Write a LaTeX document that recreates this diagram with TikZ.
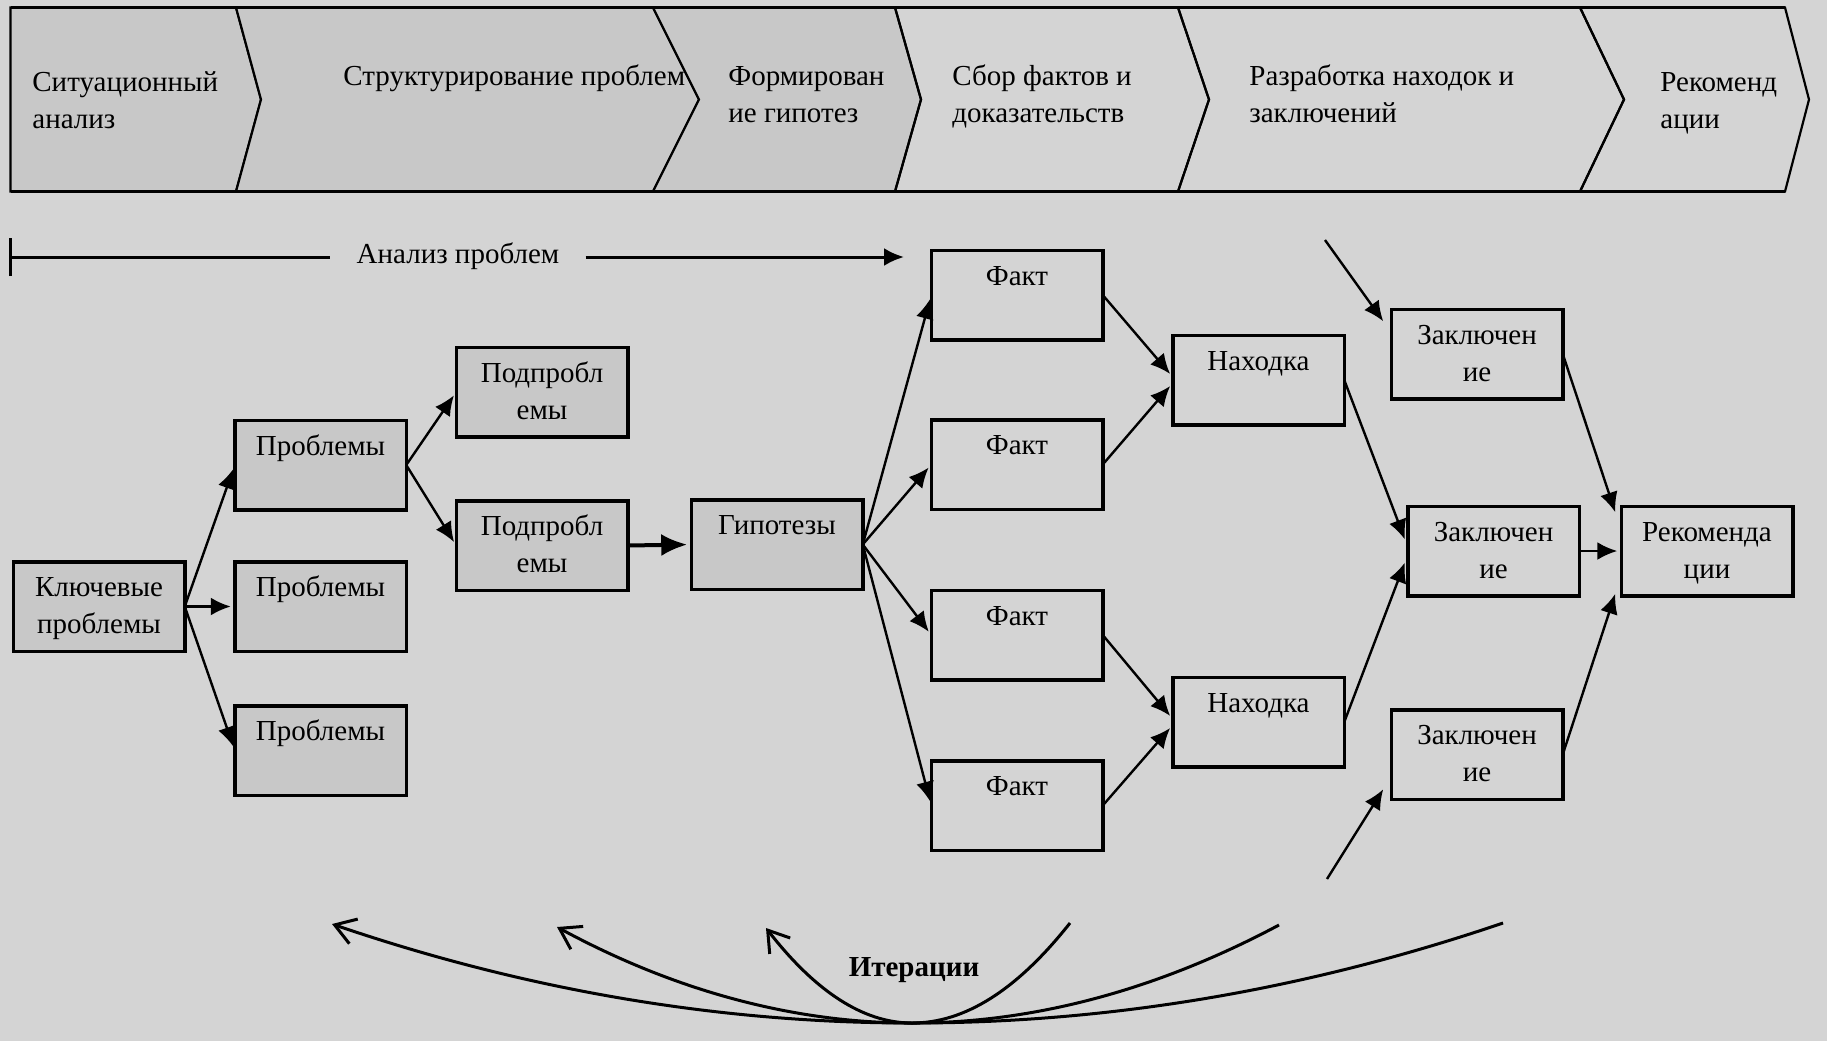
\documentclass[tikz,border=0pt]{standalone}
\usepackage{fontspec}
\setmainfont{Liberation Serif}
\usetikzlibrary{arrows.meta}
\definecolor{bgcol}{HTML}{D4D4D4}
\definecolor{cellfill}{HTML}{C8C8C8}
\newcommand{\cell}[1]{\parbox[c][44.75pt][t]{85.75pt}{\centering\rule{0pt}{17.6pt}#1\par}}

\begin{document}
\begin{tikzpicture}[x=0.5pt,y=-0.5pt,
  every node/.style={font=\fontsize{14.5}{18.3}\selectfont},
  box/.style={draw,line width=1.75pt,inner sep=0pt,outer sep=0pt},
  graybox/.style={box,fill=cellfill},
  stage/.style={anchor=base west,align=left,inner sep=0pt},
  arr/.style={-{Latex[length=10pt,width=9pt]},line width=1.2pt,shorten >=2pt},
  band/.style={line width=1.1pt,line join=miter},
  iter/.style={line width=1.5pt},
  barb/.style={-{Straight Barb[length=10pt,width=13pt]}}]
\fill[bgcol] (0,0) rectangle (1827,1041);
\useasboundingbox (0,0) rectangle (1827,1041);
% stages
\filldraw[band,fill=cellfill] (10.5,7.5) -- (236,7.5) -- (261,99.5) -- (236,191.5) -- (10.5,191.5) -- cycle;
\filldraw[band,fill=cellfill] (236,7.5) -- (653,7.5) -- (699,99.5) -- (653,191.5) -- (236,191.5) -- (261,99.5) -- cycle;
\filldraw[band,fill=cellfill] (653,7.5) -- (895,7.5) -- (921,99.5) -- (895,191.5) -- (653,191.5) -- (699,99.5) -- cycle;
\draw[band] (895,7.5) -- (1178,7.5) -- (1209,99.5) -- (1178,191.5) -- (895,191.5) -- (921,99.5) -- cycle;
\draw[band] (1178,7.5) -- (1580,7.5) -- (1624,99.5) -- (1580,191.5) -- (1178,191.5) -- (1209,99.5) -- cycle;
\draw[band] (1580,7.5) -- (1785,7.5) -- (1809,99.5) -- (1785,191.5) -- (1580,191.5) -- (1624,99.5) -- cycle;
\draw[line width=1.6pt] (10.5,7.5) -- (1785,7.5) (10.5,191.5) -- (1785,191.5);
\node[stage] (st1) at (32,128.3) {Ситуационный\\анализ};
\node[stage] (st2) at (343,85) {Структурирование проблем};
\node[stage] (st3) at (728,122) {Формирован\\ие гипотез};
\node[stage] (st4) at (952,122) {Сбор фактов и\\доказательств};
\node[stage] (st5) at (1249,122) {Разработка находок и\\заключений};
\node[stage] (st6) at (1660,128.3) {Рекоменд\\ации};
% problem analysis
\coordinate (anstart) at (9,257);
\coordinate (anend) at (904,257);
\node[anchor=base,inner xsep=13pt] (analiz) at (458,263.3) {Анализ проблем};
\draw[line width=1.5pt,{Bar[width=19pt]}-] (anstart) -- (anstart -| analiz.west);
\draw[line width=1.5pt,-{Latex[length=10pt,width=9pt]}] (anend -| analiz.east) -- (anend);
% boxes
\node[graybox] (key) at (99,606.5) {\cell{Ключевые\\проблемы}};
\node[graybox] (p1) at (320.5,465) {\cell{Проблемы}};
\node[graybox] (p2) at (320.5,606.5) {\cell{Проблемы}};
\node[graybox] (p3) at (320.5,750.5) {\cell{Проблемы}};
\node[graybox] (s1) at (542,392) {\cell{Подпробл\\емы}};
\node[graybox] (s2) at (542,545.5) {\cell{Подпробл\\емы}};
\node[graybox] (hyp) at (777,544.5) {\cell{Гипотезы}};
\node[box] (f1) at (1017,295) {\cell{Факт}};
\node[box] (f2) at (1017,464.5) {\cell{Факт}};
\node[box] (f3) at (1017,635) {\cell{Факт}};
\node[box] (f4) at (1017,805.5) {\cell{Факт}};
\node[box] (n1) at (1258.5,380) {\cell{Находка}};
\node[box] (n2) at (1258.5,722) {\cell{Находка}};
\node[box] (c1) at (1477,354) {\cell{Заключен\\ие}};
\node[box] (c2) at (1493.5,551) {\cell{Заключен\\ие}};
\node[box] (c3) at (1477,754.5) {\cell{Заключен\\ие}};
\node[box] (rec) at (1707,551) {\cell{Рекоменда\\ции}};
% connectors
\draw[arr] (key.east) -- (p1.west);
\draw[arr] (key.east) -- (p2.west);
\draw[arr] (key.east) -- (p3.west);
\draw[arr] (p1.east) -- (s1.west);
\draw[arr] (p1.east) -- (s2.west);
\draw[arr,line width=2pt,-{Latex[length=13pt,width=11pt]}] (s2.east) -- (hyp.west);
\draw[arr] (hyp.east) -- (f1.west);
\draw[arr] (hyp.east) -- (f2.west);
\draw[arr] (hyp.east) -- (f3.west);
\draw[arr] (hyp.east) -- (f4.west);
\draw[arr] (f1.east) -- ([yshift=1.5pt]n1.west);
\draw[arr] (f2.east) -- ([yshift=-1.5pt]n1.west);
\draw[arr] (f3.east) -- ([yshift=1.5pt]n2.west);
\draw[arr] (f4.east) -- ([yshift=-1.5pt]n2.west);
\draw[arr,shorten >=4pt] (n1.east) -- ([yshift=2pt]c2.west);
\draw[arr,shorten >=4pt] (n2.east) -- ([yshift=-2pt]c2.west);
\draw[arr,shorten >=0pt] (c1.east) -- ([xshift=-3pt,yshift=-3pt]rec.north west);
\draw[arr] (c2.east) -- (rec.west);
\draw[arr,shorten >=0pt] (c3.east) -- ([xshift=-3pt,yshift=1pt]rec.south west);
\coordinate (cin1) at (1325,240);
\coordinate (cin3) at (1327,879);
\draw[arr,shorten >=0pt] (cin1) -- ([xshift=-4pt,yshift=-6pt]c1.north west);
\draw[arr,shorten >=0pt] (cin3) -- ([xshift=-4pt,yshift=5pt]c3.south west);
% iterations
\node[anchor=base,font=\bfseries\fontsize{14.5}{18.3}\selectfont] (iter) at (914,976.7) {Итерации};
\coordinate (ib) at (912,1023);
\coordinate (il1) at (332,924);
\coordinate (il2) at (557,927);
\coordinate (il3) at (766,928);
\coordinate (ir1) at (1070,923);
\coordinate (ir2) at (1279,925);
\coordinate (ir3) at (1503,923);
\draw[iter,barb] (ib) .. controls +(-193,0) and +(193,66) .. (il1);
\draw[iter,barb] (ib) .. controls +(-118,0) and +(118,64) .. (il2);
\draw[iter,barb] (ib) .. controls +(-49,0) and +(49,63) .. (il3);
\draw[iter] (ib) .. controls +(53,0) and +(-53,67) .. (ir1);
\draw[iter] (ib) .. controls +(122,0) and +(-122,65) .. (ir2);
\draw[iter] (ib) .. controls +(197,0) and +(-197,67) .. (ir3);
\end{tikzpicture}
\end{document}
